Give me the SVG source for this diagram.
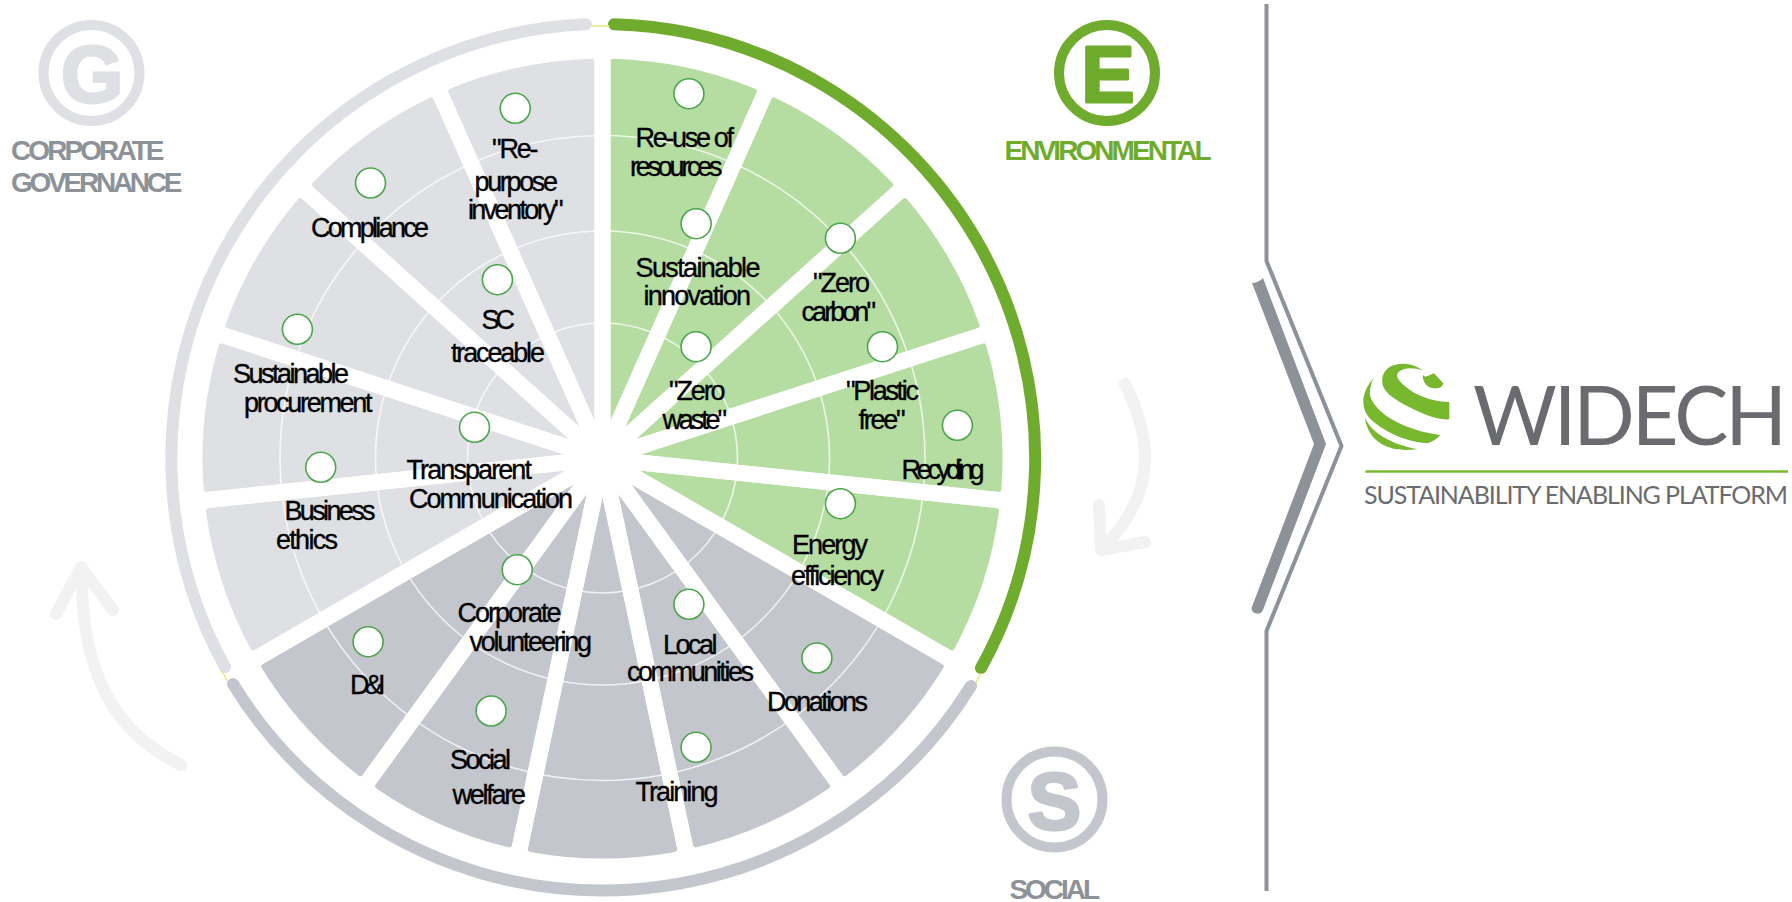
<svg xmlns="http://www.w3.org/2000/svg" width="1792" height="902" viewBox="0 0 1792 902">
<style>
.t{font-family:"Liberation Sans",Arial,sans-serif;font-size:27px;fill:#000;stroke:#000;stroke-width:.35}
.h{font-family:"Liberation Sans",Arial,sans-serif;font-size:28px;font-weight:700}
.g{fill:#dee0e4}.s{fill:#c3c6cd}.e{fill:#b5dda1}
.ring{fill:none;stroke-width:12;stroke-linecap:round}
.thin{fill:none;stroke:#fff;stroke-opacity:.75;stroke-width:1.6}
.dot{fill:#fff;stroke:#4ba54b;stroke-width:1.6}
.link{fill:none;stroke:#dfe36a;stroke-width:1.2}
.curve{fill:none;stroke:#f2f2f2;stroke-width:12;stroke-linecap:round;stroke-linejoin:round}
.badge{fill:none;stroke-width:10}
.let{font-family:"Liberation Sans",Arial,sans-serif;font-size:80px;font-weight:700;text-anchor:middle;stroke-width:3;stroke-linejoin:round}
.logo{font-family:Lato,"Liberation Sans",sans-serif;fill:#6a6b6f}
.lg{fill:#78b82e}
</style>
<defs>
<path id="w" d="M0,-38.5L74.7,-389.9Q75.32,-392.84 72.37,-393.4A400,400 0 0 0 -72.37,-393.4Q-75.32,-392.84 -74.7,-389.9Z"/>
</defs>
<rect width="1792" height="902" fill="#fff"/>
<g id="wedges" transform="translate(602.5 458.5)">
<use href="#w" class="e" transform="rotate(12)"/>
<use href="#w" class="e" transform="rotate(36)"/>
<use href="#w" class="e" transform="rotate(60)"/>
<use href="#w" class="e" transform="rotate(84)"/>
<use href="#w" class="e" transform="rotate(108)"/>
<use href="#w" class="s" transform="rotate(132)"/>
<use href="#w" class="s" transform="rotate(156)"/>
<use href="#w" class="s" transform="rotate(180)"/>
<use href="#w" class="s" transform="rotate(204)"/>
<use href="#w" class="s" transform="rotate(228)"/>
<use href="#w" class="g" transform="rotate(252)"/>
<use href="#w" class="g" transform="rotate(276)"/>
<use href="#w" class="g" transform="rotate(300)"/>
<use href="#w" class="g" transform="rotate(324)"/>
<use href="#w" class="g" transform="rotate(348)"/>
</g>
<g id="grid-rings">
<circle class="thin" cx="602.5" cy="458" r="135"/>
<circle class="thin" cx="602.5" cy="458" r="227"/>
<circle class="thin" cx="602.5" cy="458" r="322.5"/>
</g>
<g id="gap-lines" fill="none" stroke="#fff" stroke-width="16" transform="translate(602.5 458.5)">
<path d="M0,0V-400" transform="rotate(0)"/><path d="M0,0V-400" transform="rotate(24)"/><path d="M0,0V-400" transform="rotate(48)"/><path d="M0,0V-400" transform="rotate(72)"/><path d="M0,0V-400" transform="rotate(96)"/><path d="M0,0V-400" transform="rotate(120)"/><path d="M0,0V-400" transform="rotate(144)"/><path d="M0,0V-400" transform="rotate(168)"/><path d="M0,0V-400" transform="rotate(192)"/><path d="M0,0V-400" transform="rotate(216)"/><path d="M0,0V-400" transform="rotate(240)"/><path d="M0,0V-400" transform="rotate(264)"/><path d="M0,0V-400" transform="rotate(288)"/><path d="M0,0V-400" transform="rotate(312)"/><path d="M0,0V-400" transform="rotate(336)"/>
</g>
<g id="outer-ring">
<path class="ring" stroke="#dee0e4" d="M225,667A434,434 0 0 1 586,24.3"/>
<path class="ring" stroke="#6fab2c" d="M614,24.2A434,434 0 0 1 981,668"/>
<path class="ring" stroke="#c3c6cd" d="M971,686A434,434 0 0 1 233,684"/>
</g>
<g id="connectors">
<path class="link" d="M592,26H610"/>
<path class="link" d="M222,671L227.500,681"/>
<path class="link" d="M981,673L976,683"/>
</g>
<g id="cycle-arrows">
<path class="curve" d="M1125,384C1158,450 1150,500 1103,548M1099,505L1101,550L1145,542"/>
<path class="curve" d="M181,765C120,735 80,680 82,570M56,614L81,567L113,610"/>
</g>
<g id="badge-g">
<ellipse class="badge" stroke="#dee0e4" cx="91.500" cy="73" rx="48" ry="48"/>
<text class="let" x="92" y="102" fill="#dee0e4" stroke="#dee0e4">G</text>
<text class="h" x="11" y="160" textLength="153.500" fill="#8d9299">CORPORATE</text>
<text class="h" x="11" y="192" textLength="171.500" fill="#8d9299">GOVERNANCE</text>
</g>
<g id="badge-e">
<ellipse class="badge" stroke="#6fab2c" cx="1107" cy="73" rx="48" ry="48"/>
<text class="let" x="1108" y="102" fill="#6fab2c" stroke="#6fab2c">E</text>
<text class="h" x="1004.500" y="160" textLength="207" fill="#6fab2c">ENVIRONMENTAL</text>
</g>
<g id="badge-s">
<ellipse class="badge" stroke="#c3c6cd" cx="1054.500" cy="799.500" rx="48" ry="48"/>
<text class="let" x="1054.500" y="829" fill="#c3c6cd" stroke="#c3c6cd">S</text>
<text class="h" x="1009.500" y="899" textLength="90.500" fill="#8d9299">SOCIAL</text>
</g>
<g id="n-repurpose"><circle class="dot" cx="515.200" cy="108.300" r="15"/><text class="t" x="492" y="158" textLength="46.500">"Re-</text><text class="t" x="474.500" y="190.500" textLength="83.500">purpose</text><text class="t" x="468" y="219" textLength="95.500">inventory"</text></g>
<g id="n-compliance"><circle class="dot" cx="370.500" cy="183" r="15"/><text class="t" x="311" y="236.500" textLength="118">Compliance</text></g>
<g id="n-sc"><circle class="dot" cx="497.400" cy="279.700" r="15"/><text class="t" x="481.500" y="329" textLength="33.500">SC</text><text class="t" x="451" y="361.500" textLength="94">traceable</text></g>
<g id="n-procurement"><circle class="dot" cx="297.400" cy="329.300" r="15"/><text class="t" x="233" y="382.500" textLength="116">Sustainable</text><text class="t" x="244" y="411.500" textLength="128.500">procurement</text></g>
<g id="n-transparent"><circle class="dot" cx="474.500" cy="427.300" r="15"/><text class="t" x="406.500" y="479" textLength="125.500">Transparent</text><text class="t" x="409" y="508" textLength="164">Communication</text></g>
<g id="n-ethics"><circle class="dot" cx="320.700" cy="467.300" r="15"/><text class="t" x="284.500" y="520" textLength="91">Business</text><text class="t" x="276" y="549" textLength="62">ethics</text></g>
<g id="n-volunteering"><circle class="dot" cx="517.200" cy="569.700" r="15"/><text class="t" x="457.500" y="622" textLength="104">Corporate</text><text class="t" x="469.500" y="651" textLength="122.500">volunteering</text></g>
<g id="n-di"><circle class="dot" cx="368.100" cy="641.700" r="15"/><text class="t" x="350" y="694" textLength="35.500">D&amp;I</text></g>
<g id="n-welfare"><circle class="dot" cx="491.100" cy="711" r="15"/><text class="t" x="450" y="769" textLength="61">Social</text><text class="t" x="452.500" y="804" textLength="73.500">welfare</text></g>
<g id="n-reuse"><circle class="dot" cx="688.900" cy="93.700" r="15"/><text class="t" x="635.500" y="146.500" textLength="98.500">Re-use of</text><text class="t" x="630" y="175.500" textLength="92.500">resources</text></g>
<g id="n-innovation"><circle class="dot" cx="696.100" cy="223.700" r="15"/><text class="t" x="635.500" y="276.500" textLength="125">Sustainable</text><text class="t" x="643.500" y="305" textLength="107.500">innovation</text></g>
<g id="n-zero-carbon"><circle class="dot" cx="840.400" cy="238.300" r="15"/><text class="t" x="813" y="291.500" textLength="57">"Zero</text><text class="t" x="801.500" y="320.500" textLength="74.500">carbon"</text></g>
<g id="n-zero-waste"><circle class="dot" cx="696.100" cy="346.700" r="15"/><text class="t" x="669" y="399.500" textLength="56.500">"Zero</text><text class="t" x="662.500" y="428.500" textLength="64.500">waste"</text></g>
<g id="n-plastic"><circle class="dot" cx="882.500" cy="346.700" r="15"/><text class="t" x="846" y="399.500" textLength="73">"Plastic</text><text class="t" x="858.500" y="428.500" textLength="47">free"</text></g>
<g id="n-recycling"><circle class="dot" cx="957.400" cy="425.300" r="15"/><text class="t" x="901.500" y="478.500" textLength="83">Recycling</text></g>
<g id="n-energy"><circle class="dot" cx="840.400" cy="503.700" r="15"/><text class="t" x="792" y="553.500" textLength="76">Energy</text><text class="t" x="791" y="585" textLength="93">efficiency</text></g>
<g id="n-local"><circle class="dot" cx="688.900" cy="604.300" r="15"/><text class="t" x="663" y="654" textLength="54.500">Local</text><text class="t" x="627" y="681" textLength="127">communities</text></g>
<g id="n-donations"><circle class="dot" cx="816.900" cy="658" r="15"/><text class="t" x="767" y="710.500" textLength="101">Donations</text></g>
<g id="n-training"><circle class="dot" cx="696.100" cy="747.300" r="15"/><text class="t" x="635.500" y="800.500" textLength="83">Training</text></g>
<g id="divider">
<path d="M1266.500,4V261L1341.500,446L1266.500,631V891" fill="none" stroke="#8d9299" stroke-width="4" stroke-linejoin="round"/>
<path d="M1252,283Q1258,283 1263,278L1326,444L1263,610A6,6 0 0 1 1251.500,608L1314,444Z" fill="#8d9299"/>
</g>
<g id="logo">
<g transform="translate(1340 340) scale(.3333)">
<path class="lg" d="M248,92C225,72 190,66 160,76C135,85 122,108 128,135C135,160 170,185 230,212C265,228 300,240 328,238L328,186C290,185 245,175 210,150C185,132 168,115 172,103C178,85 215,78 248,92Z"/>
<path class="lg" d="M248,105L256,110L270,105L282,100L310,130C308,142 295,146 280,145C260,143 248,125 248,105Z"/>
<path class="lg" d="M103,112C82,135 70,160 70,185C70,210 82,230 100,245C150,285 205,305 262,310C280,305 292,295 301,285C250,280 195,262 150,235C115,212 85,180 90,150C92,135 96,122 103,112Z"/>
<path class="lg" d="M75,232C78,265 95,295 125,312C160,332 200,332 232,327C195,322 150,305 120,285C95,268 82,250 75,232Z"/>
</g>
<text class="logo" x="1473" y="445" font-size="81" textLength="314">WIDECH</text>
<path d="M1365.500,471.500H1788" stroke="#78b82e" stroke-width="2.500" fill="none"/>
<text class="logo" x="1364" y="503.500" font-size="25" textLength="424">SUSTAINABILITY ENABLING PLATFORM</text>
</g>
</svg>
